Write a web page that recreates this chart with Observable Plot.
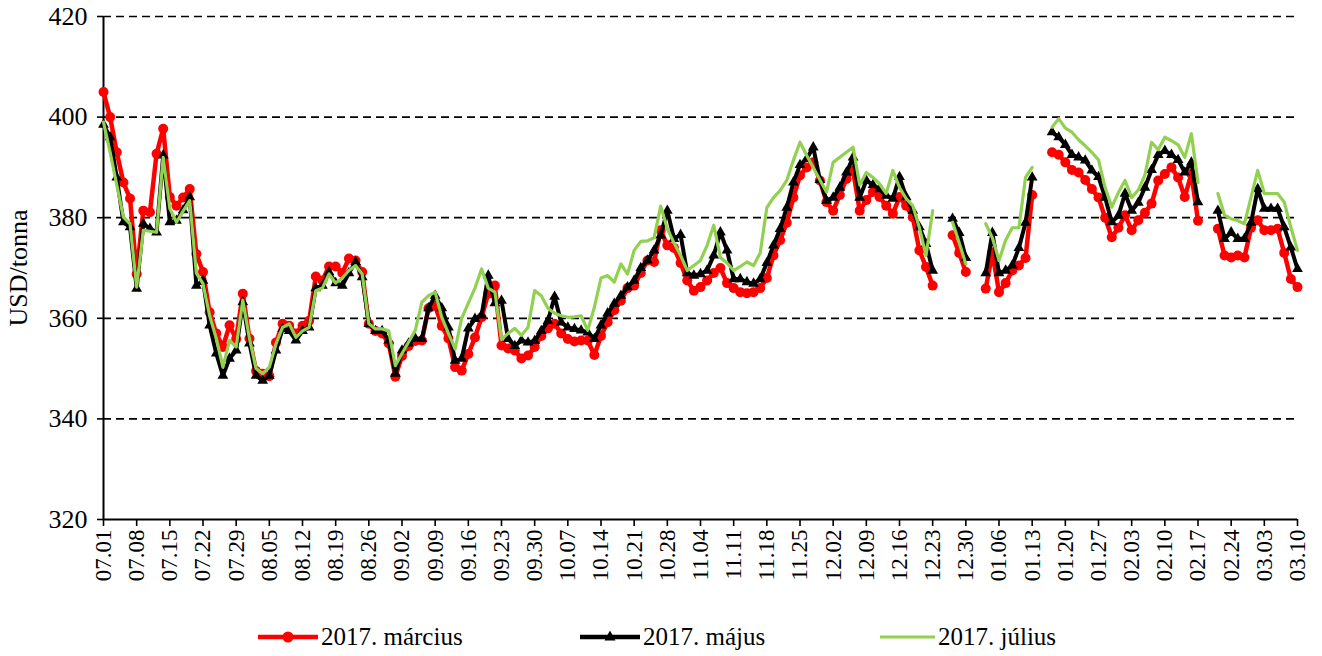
<!DOCTYPE html>
<html>
<head>
<meta charset="utf-8">
<script src="https://cdn.jsdelivr.net/npm/d3@7"></script>
<script src="https://cdn.jsdelivr.net/npm/@observablehq/plot@0.6"></script>
<style>
html, body { margin: 0; padding: 0; background: #fff; width: 1322px; height: 656px; overflow: hidden; }
#chart svg { display: block; }
#legend { position: relative; width: 1322px; height: 44px; font-family: "Liberation Serif", "Times New Roman", serif; font-size: 25px; color: #000; }
#legend .item { position: absolute; top: 3px; height: 44px; display: flex; align-items: center; white-space: nowrap; }
#legend svg { display: block; margin-right: 3px; }
</style>
</head>
<body>
<div id="chart"></div>
<div id="legend"></div>
<script>
// x-axis tick labels (every 5th business day, Fridays)
const tickLabels = ["07.01","07.08","07.15","07.22","07.29","08.05","08.12","08.19","08.26","09.02","09.09","09.16","09.23","09.30","10.07","10.14","10.21","10.28","11.04","11.11","11.18","11.25","12.02","12.09","12.16","12.23","12.30","01.06","01.13","01.20","01.27","02.03","02.10","02.17","02.24","03.03","03.10"];

const seriesNames = ["2017. március", "2017. május", "2017. július"];

// USD/tonna, one value per business day from 07.01 (first value) then 5 per week
const marcius = [405,
 400,393,387,383.8,368.8, 381.4,381.1,392.7,397.7,384.1, 382.4,384,385.7,372.8,369.2,
 361.2,357,354.3,358.6,355.9, 364.9,356,349.5,349,348.5, 355.2,358.9,358.5,357,358.5,
 359.5,368.3,367.5,370.3,370.3, 369,371.9,371.5,369.2,358.9, 357.5,357,355,348.4,352.5,
 354.5,355.5,355.6,362,362.5, 358.5,356,350.3,349.6,352.9, 356.2,360.2,364.9,366.5,354.6,
 354,353.6,352,352.6,354.3, 356.5,358,358.9,357,355.9, 355.4,355.6,355.6,352.7,356.5,
 359.2,361.6,363.5,366,366.5, 369,371.5,371.2,377.5,374.5, 374,371,367.5,365.5,366.2,
 367.5,369,370,367,366, 365.2,365,365.2,366,368, 372.5,375.5,379,384,388.4,
 390,391,387.4,383.1,381.4, 384.5,387.7,389.4,381.4,383.5, 385.1,384.1,382.4,380.8,384.1,
 382.4,380.1,373.5,370.2,366.5, null,null,376.5,373,369.2, null,null,365.9,373.1,365.2,
 367,369.5,370.5,372,384.5, null,null,393,392.5,391, 389.5,389,387.5,385.7,384,
 380,376.1,378,380.5,377.5, 379.5,381,382.8,387.4,388.7, 390,388,384.1,388.7,379.4,
 null,null,377.8,372.5,372.1, 372.5,372.1,378,379.5,377.5, 377.5,377.8,373,367.8,366.2];

const majus = [398.5,
 396,388,379.1,378.1,365.9, 378.8,377.8,377.1,392.4,379.1, 379.4,381.5,384.1,366.5,367.5,
 358.6,353,348.6,352,353.6, 363.2,355,348.6,347.6,348.6, 353.6,357.9,357.5,355.6,357.5,
 358.2,366,366.5,369.2,367, 366.5,369,371.2,368.2,358.9, 357.5,357.5,355.6,349,353.6,
 355,356,355.9,362,364.5, 362,358.2,351.6,352,358, 359.9,360.6,368.5,363,363.5,
 355.9,354.5,355.6,355.2,355.5, 357.5,359.5,364.3,359.2,358.2, 357.9,357.6,357.2,355.9,358.6,
 361,362.9,364.5,366.2,367.5, 370,371.5,373.5,376.5,381.4, 375.8,376.6,369,368.5,368.8,
 369.5,372.5,377.1,373.5,367.8, 367.8,367.2,366.9,367.8,371, 374.5,377.8,382,387,390.5,
 391.7,394,387.5,383.4,384, 386,389,392,384,387.4, 386.5,385.7,384.4,383.8,388.1,
 384.1,381.4,378.1,374.8,369.5, null,null,379.8,377,372, null,null,369,377,369,
 369.5,370.5,374,379,388, null,null,397,396,394.5, 392.5,392,391.4,389.4,388.1,
 384,379.1,380.4,384.8,381.4, 383,386,389.5,392.5,393.3, 392.5,391.5,389,391,383.1,
 null,null,381.4,375.8,377.1, 375.8,375.8,379,385.7,381.8, 381.8,381.8,378.1,374.1,369.8];

const julius = [399,
 393,386.5,380.1,378.8,366.2, 377.5,377.3,377.1,392,381.8, 379.1,381.3,383.4,369,366.9,
 360.5,356,350.3,355.6,354.3, 363.6,356,350,349,350.3, 354.9,358.2,358.9,356.2,357.5,
 358.2,365.5,366,368.8,367, 368,369.5,370.5,368.8,358.9, 357.9,357.9,357.5,350.6,353,
 355.3,357.6,363.2,364.5,365.2, 360.2,357,353.9,360,363, 366,369.8,366,365.2,355.8,
 357,358,356.6,358.2,365.5, 364.5,362,361,360.5,360.2, 360.3,360.5,357.6,362.2,368,
 368.5,367.2,370.8,368.8,373.5, 375.3,375.4,376,382.3,377.8, 375,372.5,369.5,370.5,371.5,
 374.5,378.5,372.1,371,369.5, 370.3,371.2,370.5,373,382, 384,385.4,387.4,391.4,395,
 392.4,390,387.5,385.1,391, 392,393,394,386.5,389, 388,386.7,384.8,389.4,386,
 383.8,382.4,378,372.5,381.4, null,null,379.1,375,370.8, null,null,378.8,376,371.5,
 375.5,378,378,388,390, null,null,398,399.7,397.8, 397,395.5,394.3,393,391.5,
 386,382.1,385,387.4,384, 385.5,388.5,395,393.5,396, 395.3,394.5,392,396.7,387,
 null,null,384.8,380.5,379.8, 379.4,378.8,384.1,389.4,384.8, 384.8,384.8,383.1,378.1,373.5];

const yTicks = [320, 340, 360, 380, 400, 420];
const gridValues = [340, 360, 380, 400, 420];
const colors = ["#ff0000", "#000000", "#92d050"];

const toRows = vals => vals.map((v, i) => ({i, v: v == null ? NaN : v}));
const R = toRows(marcius), B = toRows(majus), G = toRows(julius);
const defined = d => !isNaN(d.v);
const xTicks = tickLabels.map((_, k) => k * 5);

const chart = Plot.plot({
  width: 1322,
  height: 612,
  marginLeft: 103,
  marginRight: 25,
  marginTop: 16,
  marginBottom: 93,
  style: {fontFamily: '"Liberation Serif", "Times New Roman", serif', fontSize: "23px", background: "#fff", color: "#000", overflow: "visible"},
  x: {domain: [0, marcius.length - 1]},
  y: {domain: [320, 420]},
  marks: [
    Plot.ruleY(gridValues, {stroke: "#000", strokeWidth: 1.7, strokeDasharray: "8,5"}),
    Plot.ruleX([0], {stroke: "#000", strokeWidth: 2}),
    Plot.ruleY([320], {stroke: "#000", strokeWidth: 2}),
    Plot.axisY({ticks: yTicks, tickSize: 6, tickPadding: 10, fontSize: 26, strokeWidth: 1.6, label: "USD/tonna", labelAnchor: "center", labelOffset: 95, labelArrow: "none"}),
    Plot.axisX({ticks: xTicks, tickFormat: i => tickLabels[Math.round(i / 5)], tickRotate: -90, tickSize: 7, tickPadding: 3, fontSize: 23, strokeWidth: 1.6, label: null}),
    Plot.line(R, {x: "i", y: "v", stroke: colors[0], strokeWidth: 4.5}),
    Plot.dot(R.filter(defined), {x: "i", y: "v", r: 5, fill: colors[0], stroke: "none", symbol: "circle"}),
    Plot.line(B, {x: "i", y: "v", stroke: colors[1], strokeWidth: 4}),
    Plot.dot(B.filter(defined), {x: "i", y: "v", r: 4, fill: colors[1], stroke: "none", symbol: "triangle"}),
    Plot.line(G, {x: "i", y: "v", stroke: colors[2], strokeWidth: 3.2})
  ]
});
document.getElementById("chart").appendChild(chart);

// legend
const legendLeft = [258, 580, 880];
const sampleW = [60, 60, 55];
const legend = document.getElementById("legend");
seriesNames.forEach((name, k) => {
  const w = sampleW[k];
  let marker = "";
  if (k === 0) marker = `<circle cx="${w/2}" cy="10" r="5.5" fill="${colors[0]}"/>`;
  if (k === 1) marker = `<path d="M${w/2},3.5 L${w/2-5.5},13.5 L${w/2+5.5},13.5 Z" fill="#000"/>`;
  const sw = k === 2 ? 3.2 : 4.5;
  const item = document.createElement("div");
  item.className = "item";
  item.style.left = legendLeft[k] + "px";
  item.innerHTML = `<svg width="${w}" height="20"><line x1="0" x2="${w}" y1="10" y2="10" stroke="${colors[k]}" stroke-width="${sw}"/>${marker}</svg><span>${name}</span>`;
  legend.appendChild(item);
});
</script>
</body>
</html>
